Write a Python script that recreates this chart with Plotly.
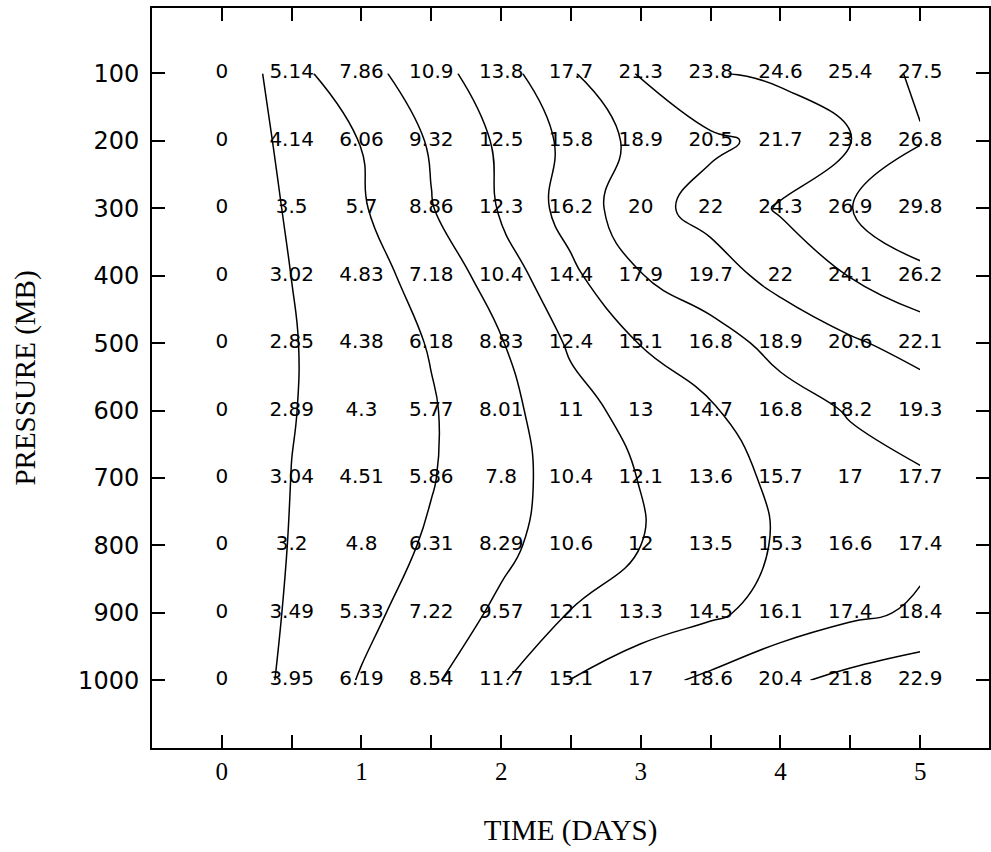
import plotly.graph_objects as go

times = [0, 0.5, 1, 1.5, 2, 2.5, 3, 3.5, 4, 4.5, 5]
pressures = [100, 200, 300, 400, 500, 600, 700, 800, 900, 1000]

row_100 = [0, 5.14, 7.86, 10.9, 13.8, 17.7, 21.3, 23.8, 24.6, 25.4, 27.5]
row_200 = [0, 4.14, 6.06, 9.32, 12.5, 15.8, 18.9, 20.5, 21.7, 23.8, 26.8]
row_300 = [0, 3.5, 5.7, 8.86, 12.3, 16.2, 20, 22, 24.3, 26.9, 29.8]
row_400 = [0, 3.02, 4.83, 7.18, 10.4, 14.4, 17.9, 19.7, 22, 24.1, 26.2]
row_500 = [0, 2.85, 4.38, 6.18, 8.83, 12.4, 15.1, 16.8, 18.9, 20.6, 22.1]
row_600 = [0, 2.89, 4.3, 5.77, 8.01, 11, 13, 14.7, 16.8, 18.2, 19.3]
row_700 = [0, 3.04, 4.51, 5.86, 7.8, 10.4, 12.1, 13.6, 15.7, 17, 17.7]
row_800 = [0, 3.2, 4.8, 6.31, 8.29, 10.6, 12, 13.5, 15.3, 16.6, 17.4]
row_900 = [0, 3.49, 5.33, 7.22, 9.57, 12.1, 13.3, 14.5, 16.1, 17.4, 18.4]
row_1000 = [0, 3.95, 6.19, 8.54, 11.7, 15.1, 17, 18.6, 20.4, 21.8, 22.9]

z = [row_100, row_200, row_300, row_400, row_500,
     row_600, row_700, row_800, row_900, row_1000]

x_tick_vals = [0, 0.5, 1, 1.5, 2, 2.5, 3, 3.5, 4, 4.5, 5]
x_tick_text = ["0", "", "1", "", "2", "", "3", "", "4", "", "5"]
y_tick_vals = pressures
y_tick_text = [str(p) for p in pressures]

contour_start, contour_end, contour_step = 3, 30, 3

fig = go.Figure()

fig.add_trace(go.Contour(
    x=times, y=pressures, z=z,
    contours=dict(start=contour_start, end=contour_end, size=contour_step,
                  coloring="none", showlabels=False),
    line=dict(color="black", width=1.5, smoothing=1.3),
    showscale=False, hoverinfo="skip",
))

tx, ty, tt = [], [], []
for p, row in zip(pressures, z):
    for t, v in zip(times, row):
        tx.append(t)
        ty.append(p)
        tt.append(f"{v:g}")

fig.add_trace(go.Scatter(
    x=tx, y=ty, text=tt, mode="text",
    textfont=dict(family="DejaVu Sans", size=20, color="black"),
    textposition="middle center", hoverinfo="skip", cliponaxis=False,
    showlegend=False,
))

fig.update_layout(
    width=991, height=852,
    margin=dict(l=152, r=0, t=8, b=104),
    paper_bgcolor="white", plot_bgcolor="white",
    showlegend=False,
    xaxis=dict(
        range=[-0.5, 5.493], tickvals=x_tick_vals, ticktext=x_tick_text,
        ticks="inside", ticklen=13, tickwidth=1.5, tickcolor="black",
        showline=True, linewidth=2, linecolor="black", mirror="ticks",
        showgrid=False, zeroline=False,
        tickfont=dict(family="Liberation Serif", size=25, color="black"),
        ticklabelstandoff=0,
        title=dict(text="TIME (DAYS)", standoff=36,
                   font=dict(family="Liberation Serif", size=29, color="black")),
    ),
    yaxis=dict(
        range=[1100.5, 3], tickvals=y_tick_vals, ticktext=y_tick_text,
        ticks="inside", ticklen=13, tickwidth=1.5, tickcolor="black",
        showline=True, linewidth=2, linecolor="black", mirror="ticks",
        showgrid=False, zeroline=False,
        tickfont=dict(family="DejaVu Sans", size=24, color="black"),
        ticklabelstandoff=6,
        title=dict(text="PRESSURE (MB)", standoff=34,
                   font=dict(family="Liberation Serif", size=29, color="black")),
    ),
)

fig.write_html(
    "out.html",
    config={"displayModeBar": False},
    post_script="document.body.style.margin='0';document.body.style.overflow='hidden';",
)
